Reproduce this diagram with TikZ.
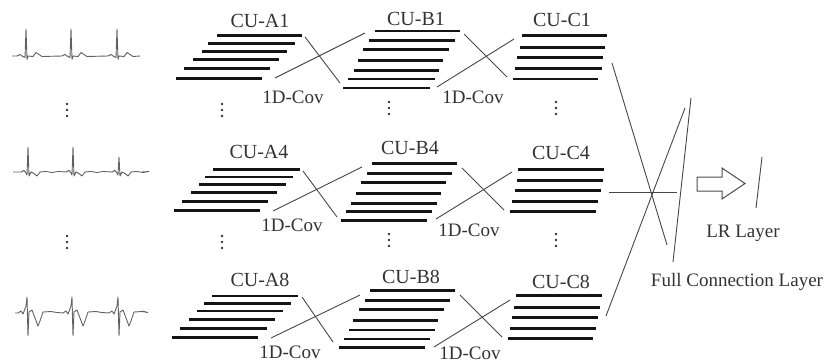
\documentclass[tikz,border=0pt]{standalone}
\usepackage{fontspec}
\setmainfont{Liberation Serif}
\begin{document}
\begin{tikzpicture}[x=1pt,y=-1pt,
  bar/.style={line width=2.8pt, black!92},
  conn/.style={line width=0.9pt, black!72},
  lbl/.style={font=\fontsize{20}{22}\selectfont, text=black!80, inner sep=0pt},
  cov/.style={font=\fontsize{19}{21}\selectfont, text=black!80, inner sep=0pt},
  ecg/.style={line width=0.9pt, black!62, line join=round},
  vdot/.style={fill=black!80, draw=none}]
\useasboundingbox (0,0) rectangle (833,364);

% ---------- ECG signals ----------
\draw[ecg] (12,56) \foreach \s in {26,71,117}{
  -- (\s-9,56) -- (\s-6,54.5) -- (\s-4,56) -- (\s-1,57.5) -- (\s,29) -- (\s+1,59.5)
  -- (\s+2,56) -- (\s+7,56.5) -- (\s+10,52.5) -- (\s+13,54.5) -- (\s+16,56.5) } -- (140,56);
\draw[ecg] (13,172) \foreach \s/\t in {28/147,73/147,119/157}{
  -- (\s-7,172) -- (\s-4,170.5) -- (\s-2,173) -- (\s-1,175) -- (\s,\t) -- (\s+1,176)
  -- (\s+3,172) -- (\s+6,173.5) -- (\s+9,176) -- (\s+12,172) -- (\s+18,171.5) -- (\s+24,172.5) -- (\s+30,171.5) } -- (142,172);
\draw[ecg] (15,313) \foreach \s in {27,72,118}{
  -- (\s-9,313) -- (\s-6,311) -- (\s-4,314) -- (\s-1,306) -- (\s,297) -- (\s+1,336)
  -- (\s+2,312) -- (\s+5,310) -- (\s+8,318) -- (\s+11,326) -- (\s+13,321) -- (\s+16,312) -- (\s+24,311.5) -- (\s+30,312.5) } -- (142,311);

% ---------- vertical dots ----------
\foreach \x/\y in {67/110,222/110,389/108,556/108,67/242,222/242,389/240,556/240}{
  \foreach \d in {-6,0,6}{ \fill[vdot] (\x,\y+\d) circle (1.3pt); } }

% ---------- stacks ----------
\foreach \a/\b/\y in {217/302/35.7, 208/295/43.7, 202/287/51.7, 193/279/59.3, 184/270/68.7, 176/262/78.3,
  375/460/31, 369/455/40.3, 363/449/49.3, 358/443/60.3, 354/439/70.3, 348/435/79, 343/430/88,
  522/607/35.7, 520/605/47.3, 517/603/57.3, 515/602/68.3, 513/598/79,
  213/300/169.3, 205/293/177, 199/286/184.3, 191/277/192.7, 182/268/201.3, 174/260/210.7,
  372/457/163.3, 367/452/173.3, 361/446/182.3, 356/441/193.3, 351/437/203.3, 346/432/211.7, 341/427/220.7,
  518/604/169.3, 517/603/180.7, 515/601/190.3, 512/598/201.3, 510/596/211.7,
  212/298/296, 204/291/303.3, 197/283/311, 189/275/319.3, 180/267/328.3, 172/258/337.7,
  370/455/290.7, 365/450/300.7, 359/444/309.3, 353/438/320.7, 349/435/330, 344/430/339, 339/425/347.7,
  516/602/295.7, 514/600/307.3, 512/598/317.3, 510/596/328.3, 508/593/338.7}{
  \draw[bar] (\a,\y) -- (\b,\y); }

% ---------- labels ----------
\node[lbl] (la1) at (260,21) {CU-A1};
\node[lbl] (lb1) at (416,19) {CU-B1};
\node[lbl] (lc1) at (562,20) {CU-C1};
\node[lbl] (la4) at (259,152) {CU-A4};
\node[lbl] (lb4) at (410,148) {CU-B4};
\node[lbl] (lc4) at (561,153) {CU-C4};
\node[lbl] (la8) at (260,280) {CU-A8};
\node[lbl] (lb8) at (411,277) {CU-B8};
\node[lbl] (lc8) at (561,282) {CU-C8};
\node[cov] (v1) at (293,97) {1D-Cov};
\node[cov] (v2) at (473,97) {1D-Cov};
\node[cov] (v3) at (292,225) {1D-Cov};
\node[cov] (v4) at (469,230) {1D-Cov};
\node[cov] (v5) at (290,352) {1D-Cov};
\node[cov] (v6) at (470,353) {1D-Cov};
\node[cov] (lr) at (743,233) {LR Layer};
\node[cov] (fc) at (737,282) {Full Connection Layer};

% ---------- convolution connectors ----------
\coordinate (p1) at (305,37);  \coordinate (q1) at (340,83);
\coordinate (p2) at (275,78);  \coordinate (q2) at (365,33);
\coordinate (p3) at (464,34);  \coordinate (q3) at (507,77);
\coordinate (p4) at (437,87);  \coordinate (q4) at (514,39);
\coordinate (p5) at (303,171); \coordinate (q5) at (337,217);
\coordinate (p6) at (273,211); \coordinate (q6) at (362,167);
\coordinate (p7) at (462,168); \coordinate (q7) at (504,210);
\coordinate (p8) at (436,219); \coordinate (q8) at (512,172);
\coordinate (p9) at (302,297); \coordinate (q9) at (333,342);
\coordinate (p10) at (271,338); \coordinate (q10) at (360,295);
\coordinate (p11) at (460,295); \coordinate (q11) at (502,337);
\coordinate (p12) at (434,347); \coordinate (q12) at (510,300);
\foreach \i in {1,...,12}{ \draw[conn] (p\i) -- (q\i); }

% ---------- full connection ----------
\coordinate (fa1) at (612,63);  \coordinate (fa2) at (667,245);
\coordinate (fb1) at (685,108); \coordinate (fb2) at (606,316);
\coordinate (fc1) at (691,98);  \coordinate (fc2) at (673,262);
\coordinate (fh1) at (609,192); \coordinate (fh2) at (677,192);
\draw[conn] (fa1) -- (fa2);
\draw[conn] (fb1) -- (fb2);
\draw[conn] (fc1) -- (fc2);
\draw[conn] (fh1) -- (fh2);

% ---------- arrow and LR layer ----------
\draw[line width=1pt, black!70, line join=miter]
  (697,177) -- (722,177) -- (722,168) -- (745,183.5) -- (722,199) -- (722,191) -- (697,191) -- cycle;
\coordinate (lr1) at (762,157); \coordinate (lr2) at (756,208);
\draw[conn] (lr1) -- (lr2);
\end{tikzpicture}
\end{document}
